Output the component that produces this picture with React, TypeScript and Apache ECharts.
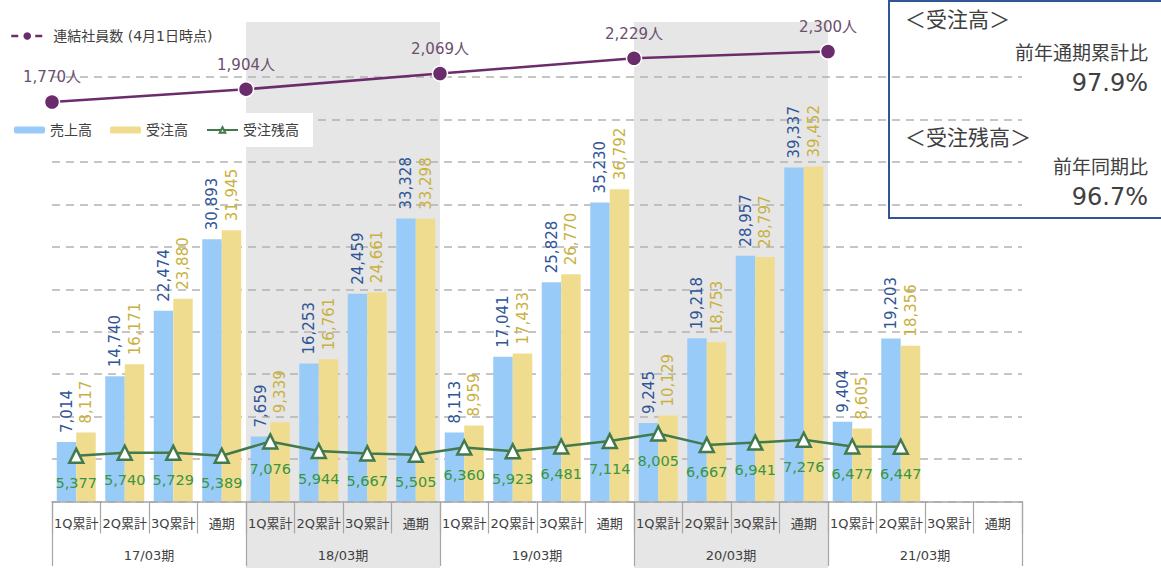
import React, { useEffect, useRef } from "react";
import * as echarts from "echarts";

const quarters = ["1Q累計", "2Q累計", "3Q累計", "通期"];
const periods = ["17/03期", "18/03期", "19/03期", "20/03期", "21/03期"];
const categories = periods.flatMap(() => quarters);

const sales = [7014, 14740, 22474, 30893, 7659, 16253, 24459, 33328, 8113, 17041, 25828, 35230, 9245, 19218, 28957, 39337, 9404, 19203, null, null];
const orders = [8117, 16171, 23880, 31945, 9339, 16761, 24661, 33298, 8959, 17433, 26770, 36792, 10129, 18753, 28797, 39452, 8605, 18356, null, null];
const backlog = [5377, 5740, 5729, 5389, 7076, 5944, 5667, 5505, 6360, 5923, 6481, 7114, 8005, 6667, 6941, 7276, 6477, 6447, null, null];
const employees = [1770, 1904, 2069, 2229, 2300];

const seriesNames = ["売上高", "受注高", "受注残高"];
const employeeName = "連結社員数 (4月1日時点)";

const boxTitle1 = "＜受注高＞";
const boxSub1 = "前年通期累計比";
const boxVal1 = "97.9%";
const boxTitle2 = "＜受注残高＞";
const boxSub2 = "前年同期比";
const boxVal2 = "96.7%";

const FONT = "'DejaVu Sans', 'Noto Sans CJK JP', sans-serif";
const GRID = { left: 52, width: 970 };
const GRAY = "#a6a6a6";

const fmt = (v: any) => (v == null ? "" : Number(v).toLocaleString("en-US"));

export default function App() {
  const ref = useRef<HTMLDivElement>(null);
  useEffect(() => {
    if (!ref.current) return;
    const chart = echarts.init(ref.current, undefined, { renderer: "svg" });
    const nQ = quarters.length;
    const option: any = {
      animation: false,
      textStyle: { fontFamily: FONT },
      grid: [
        { ...GRID, top: 77, bottom: 66.5 },
        { ...GRID, top: 22, bottom: 0 },
      ],
      legend: [
        {
          data: [employeeName],
          left: 10,
          top: 29,
          padding: 0,
          itemWidth: 32,
          itemHeight: 12,
          lineStyle: { type: [7, 5], width: 2.5 },
          textStyle: { fontSize: 14, color: "#404040", fontFamily: FONT, padding: [0, 0, 0, 5] },
        },
        {
          data: seriesNames,
          left: 0,
          top: 113,
          padding: [10, 14, 10, 14],
          itemGap: 18,
          itemWidth: 31,
          itemHeight: 7,
          backgroundColor: "#ffffff",
          textStyle: { fontSize: 14, color: "#404040", fontFamily: FONT },
        },
      ],
      xAxis: [
        {
          type: "category",
          gridIndex: 0,
          data: categories,
          z: 3,
          axisLine: { show: true, lineStyle: { color: GRAY, width: 1.5 } },
          axisTick: { show: true, interval: 0, length: 32, lineStyle: { color: GRAY, width: 1.2 } },
          axisLabel: { interval: 0, margin: 15, fontSize: 13, color: "#404040", fontFamily: FONT },
        },
        {
          type: "category",
          gridIndex: 0,
          data: periods,
          position: "bottom",
          z: 3,
          axisLine: { show: false },
          axisTick: { show: true, interval: 0, length: 64.5, lineStyle: { color: GRAY, width: 1.2 } },
          axisLabel: { interval: 0, margin: 47, fontSize: 13, color: "#404040", fontFamily: FONT },
        },
        {
          type: "value",
          gridIndex: 1,
          min: 0,
          max: categories.length,
          interval: nQ,
          z: 0,
          axisLine: { show: false },
          axisTick: { show: false },
          axisLabel: { show: false },
          splitLine: { show: false },
          splitArea: { show: true, areaStyle: { color: ["rgba(0,0,0,0)", "#e6e6e6"] } },
        },
      ],
      yAxis: [
        {
          type: "value",
          gridIndex: 0,
          min: 0,
          max: 50000,
          interval: 5000,
          z: 1,
          axisLine: { show: false },
          axisTick: { show: false },
          axisLabel: { show: false },
          splitLine: { show: true, lineStyle: { color: "#b3b3b3", width: 1.5, type: [8, 6] } },
        },
        {
          type: "value",
          gridIndex: 1,
          min: -3120,
          max: 2610,
          axisLine: { show: false },
          axisTick: { show: false },
          axisLabel: { show: false },
          splitLine: { show: false },
        },
      ],
      series: [
        {
          name: seriesNames[0],
          type: "bar",
          xAxisIndex: 0,
          yAxisIndex: 0,
          data: sales,
          barWidth: 19.5,
          barGap: "0%",
          z: 2,
          itemStyle: { color: "#99cbf9" },
          label: {
            show: true,
            position: "top",
            rotate: 90,
            align: "left",
            verticalAlign: "middle",
            distance: 9,
            fontSize: 15,
            fontFamily: FONT,
            color: "#2f5597",
            formatter: (p: any) => fmt(p.value),
          },
        },
        {
          name: seriesNames[1],
          type: "bar",
          xAxisIndex: 0,
          yAxisIndex: 0,
          data: orders,
          barWidth: 19.5,
          barGap: "0%",
          z: 2,
          itemStyle: { color: "#f0dc8e" },
          label: {
            show: true,
            position: "top",
            rotate: 90,
            align: "left",
            verticalAlign: "middle",
            distance: 9,
            fontSize: 15,
            fontFamily: FONT,
            color: "#c9b140",
            formatter: (p: any) => fmt(p.value),
          },
        },
        {
          name: seriesNames[2],
          type: "line",
          xAxisIndex: 0,
          yAxisIndex: 0,
          data: backlog,
          z: 4,
          symbol: "triangle",
          symbolSize: 14,
          lineStyle: { color: "#427a4e", width: 2.5 },
          itemStyle: { color: "#ffffff", borderColor: "#427a4e", borderWidth: 2.5 },
          label: {
            show: true,
            position: "bottom",
            distance: 12,
            fontSize: 14.5,
            fontFamily: FONT,
            color: "#3a9444",
            formatter: (p: any) => fmt(p.value),
          },
        },
        {
          name: employeeName,
          type: "line",
          xAxisIndex: 2,
          yAxisIndex: 1,
          data: employees.map((v, i) => [i * nQ, v]),
          z: 4,
          clip: false,
          symbol: "circle",
          symbolSize: 15,
          lineStyle: { color: "#6b2c6b", width: 2.5 },
          itemStyle: { color: "#6b2c6b", borderColor: "#ffffff", borderWidth: 1.5 },
          label: {
            show: true,
            position: "top",
            distance: 9,
            fontSize: 15,
            fontFamily: FONT,
            color: "#6b4f6e",
            formatter: (p: any) => fmt(p.value[1]) + "人",
          },
        },
      ],
      graphic: [
        {
          type: "group",
          z: 100,
          children: [
            {
              type: "rect",
              shape: { x: 889, y: 1, width: 300, height: 217 },
              style: { fill: "#ffffff", stroke: "#2f5597", lineWidth: 2 },
            },
            { type: "text", style: { text: boxTitle1, x: 905, y: 20, fill: "#404040", fontSize: 21, fontFamily: FONT, align: "left", verticalAlign: "middle" } },
            { type: "text", style: { text: boxSub1, x: 1148, y: 53, fill: "#404040", fontSize: 19, fontFamily: FONT, align: "right", verticalAlign: "middle" } },
            { type: "text", style: { text: boxVal1, x: 1148, y: 83, fill: "#404040", fontSize: 24, fontFamily: FONT, align: "right", verticalAlign: "middle" } },
            { type: "text", style: { text: boxTitle2, x: 905, y: 138, fill: "#404040", fontSize: 21, fontFamily: FONT, align: "left", verticalAlign: "middle" } },
            { type: "text", style: { text: boxSub2, x: 1148, y: 167, fill: "#404040", fontSize: 19, fontFamily: FONT, align: "right", verticalAlign: "middle" } },
            { type: "text", style: { text: boxVal2, x: 1148, y: 197, fill: "#404040", fontSize: 24, fontFamily: FONT, align: "right", verticalAlign: "middle" } },
          ],
        },
      ],
    };
    chart.setOption(option);
    return () => chart.dispose();
  }, []);
  return (
    <div
      ref={ref}
      style={{ position: "absolute", left: 0, top: 0, width: 1161, height: 568, background: "#ffffff" }}
    />
  );
}
